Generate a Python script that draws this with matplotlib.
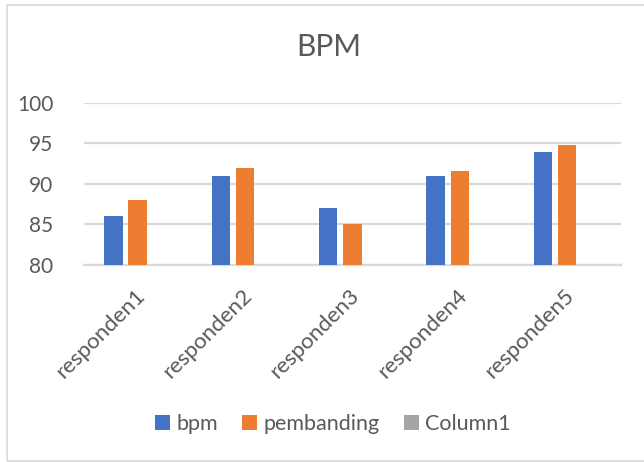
import matplotlib
matplotlib.use("Agg")
import matplotlib.pyplot as plt
import matplotlib.transforms as mtransforms
import numpy as np
from matplotlib.patches import Rectangle, Patch

categories = ["responden1", "responden2", "responden3", "responden4", "responden5"]
bpm = [86, 91, 87, 91, 94]
pembanding = [88, 92, 85, 91.6, 94.8]
column1 = [np.nan, np.nan, np.nan, np.nan, np.nan]
series_names = ["bpm", "pembanding", "Column1"]
colors = ["#4472C4", "#ED7D31", "#A5A5A5"]
yticks = [80, 85, 90, 95, 100]

plt.rcParams['font.family'] = ['Lato', 'DejaVu Sans']
txt = "#595959"
grid = "#D9D9D9"

W, H = 644, 462
fig = plt.figure(figsize=(W/100, H/100), dpi=100)
ax = fig.add_axes([84/W, 1-265/H, (620.7-84)/W, (265-103)/H])

x = np.arange(len(categories))
step = 0.224
bw = 0.171
for i, (vals, c) in enumerate(zip([bpm, pembanding, column1], colors)):
    ax.bar(x + (i-1)*step, vals, width=bw, color=c, zorder=3)

ax.set_ylim(80, 100)
ax.set_xlim(-0.5, len(categories)-0.5)
ax.set_yticks(yticks)
ax.set_yticklabels([str(v) for v in yticks], fontsize=15, color=txt)
ax.yaxis.grid(True, color=grid, linewidth=1.6, zorder=0)
ax.set_axisbelow(True)
ax.tick_params(axis='y', length=0, pad=22)
ax.tick_params(axis='x', length=0, pad=20)
ax.set_xticks(x)
ax.set_xticklabels(categories, fontsize=16, color=txt, rotation=45,
                   ha='right', va='center', rotation_mode='anchor')
offset = mtransforms.ScaledTranslation(4/100, 0, fig.dpi_scale_trans)
for lbl in ax.get_xticklabels():
    lbl.set_transform(lbl.get_transform() + offset)
for s in ['top', 'right', 'left']:
    ax.spines[s].set_visible(False)
ax.spines['bottom'].set_color(grid)
ax.spines['bottom'].set_linewidth(1.6)

fig.text(329/W, 1-47/H, "BPM", fontsize=21.5, color=txt, ha='center', va='center')

handles = [Patch(facecolor=c, edgecolor='none') for c in colors]
fig.legend(handles, series_names, loc='center', bbox_to_anchor=(333/W, 1-424/H),
           ncol=3, frameon=False, fontsize=15.5, labelcolor=txt,
           handlelength=0.7, handleheight=0.7, handletextpad=0.3,
           columnspacing=1.1)

fig.add_artist(Rectangle((7/W, 1/H), 1.0, (461-5)/H, transform=fig.transFigure,
                         fill=False, edgecolor=grid, linewidth=1.2))

fig.savefig("out.png", dpi=100)
